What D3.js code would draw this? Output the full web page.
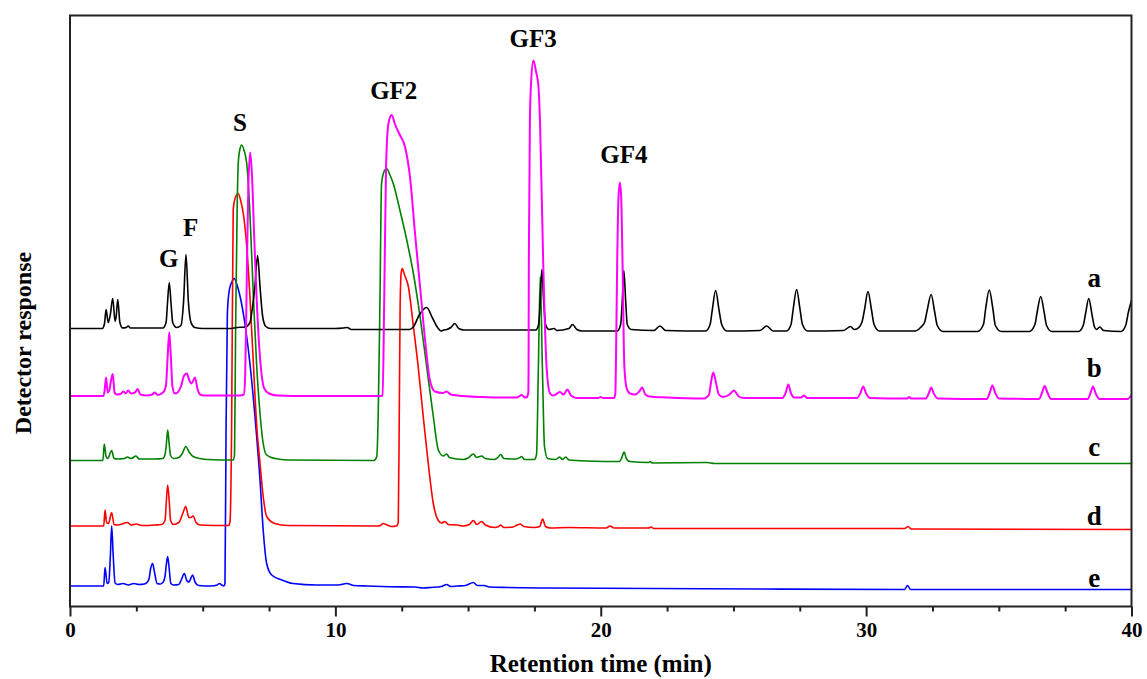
<!DOCTYPE html>
<html><head><meta charset="utf-8">
<script src="https://cdn.jsdelivr.net/npm/d3@7"></script>
<style>body{margin:0;background:#fff;} svg{display:block;}</style>
</head><body><svg id="chart" width="1147" height="679"></svg>
<script>
// Retention time (min), detector response (arbitrary units, traces stacked)
const traceA = [[0,278],[1.22,278],[1.30,283],[1.36,297],[1.44,284],[1.52,292],[1.61,308],[1.70,285],[1.74,290],[1.80,307],[1.88,284],[1.98,278.5],[2.12,279],[2.19,280.5],[2.28,278.5],
[3.50,278.5],[3.62,284],[3.67,302],[3.74,324],[3.81,302],[3.87,284],[4.02,279],
[4.18,281],[4.28,305],[4.37,352],[4.46,305],[4.56,284],[4.70,279],[5.0,278],
[6.0,278],[6.3,279],[6.6,279.5],[6.78,284],[6.88,300],[6.96,318],[7.07,351],[7.16,320],[7.26,290],[7.38,280],[7.55,278],
[10.0,278],[10.3,278.5],[10.45,279],[10.6,277],[12.8,277],[12.95,280],[13.15,291],[13.44,299],[13.65,289],[13.85,279],[13.98,275.5],[14.08,276.5],[14.2,277],[14.35,279],[14.5,283],[14.65,278],[14.85,276.5],
[17.55,276.5],[17.66,282],[17.72,305],[17.78,337],[17.85,305],[17.92,282],[18.05,277],[18.24,278],[18.35,276],[18.8,278],[18.94,282],[19.1,277],[19.3,275.5],
[20.62,275.5],[20.75,282],[20.81,305],[20.87,336],[20.94,305],[21.0,282],[21.15,277],[22.0,276],[22.23,280.5],[22.45,276],
[23.95,275.5],[24.12,282],[24.2,296],[24.33,316],[24.46,296],[24.56,282],[24.75,275.5],
[26.0,276],[26.25,280.5],[26.5,275.5],[27.0,275.5],[27.17,282],[27.25,297],[27.38,317],[27.51,297],[27.6,282],[27.8,275.5],
[29.15,276],[29.41,280],[29.55,277],[29.68,278],[29.85,285],[29.94,297],[30.07,315],[30.2,297],[30.3,282],[30.5,275.5],
[31.85,275.5],[32.05,279],[32.2,284],[32.3,296],[32.45,312],[32.58,295],[32.68,281],[32.9,275],
[34.2,275],[34.42,282],[34.5,297],[34.64,316.5],[34.78,297],[34.87,281],[35.1,275],
[36.15,275],[36.36,282],[36.45,295],[36.58,310],[36.71,294],[36.8,281],[37.0,275],
[38.0,275],[38.18,281],[38.27,293],[38.39,308],[38.51,292],[38.6,280],[38.68,277],[38.8,279.5],[38.95,276],
[39.6,275],[39.78,281],[39.88,294],[40.0,306]];

const traceB = [[0,210.5],[1.26,210.5],[1.30,215],[1.36,229],[1.42,214],[1.48,216],[1.54,225],[1.61,232.5],[1.68,214],[1.76,212],[1.9,212.5],[2.01,215],[2.1,213],[2.19,216],[2.3,213],[2.45,214],[2.55,217.5],[2.65,212],[2.9,211],[3.1,212],[3.2,214],[3.3,211.5],[3.45,213],[3.55,215.5],[3.62,222],[3.68,250],[3.74,274],[3.80,250],[3.86,220],[3.95,213],[4.05,214],[4.18,220],[4.30,231],[4.40,233],[4.5,226],[4.58,223],[4.71,229],[4.8,218],[4.9,212],[5.05,211],[6.4,211],
[6.55,212],[6.60,230],[6.64,290],[6.68,360],[6.72,420],[6.79,454],[6.86,430],[6.94,370],[7.03,310],[7.13,260],[7.22,232],[7.32,218],[7.5,213],[7.8,211],[9,210.5],[11.7,210.5],
[11.78,211],[11.84,306],[11.91,440],[12.0,483],[12.12,491.5],[12.25,482],[12.43,471.5],[12.62,460],[12.72,447],[12.81,430],[13.0,373.5],[13.19,320],[13.38,266.5],[13.56,226.5],[13.75,215],[14.05,213.5],[14.19,215],[14.35,212],[14.6,211],
[15.5,209.5],[16.5,209],[16.85,209],[17.02,211.5],[17.15,209],
[17.22,209.5],[17.27,214],[17.28,239],[17.29,345],[17.33,486],[17.37,521],[17.46,546],[17.56,535],[17.65,521],[17.71,486],[17.83,345],[17.96,239],[18.09,213],[18.2,211],[18.3,212],[18.46,214.5],[18.6,212],[18.74,217],[18.88,211],[19.1,208.5],[19.9,208.5],[20.0,209.5],[20.1,208.5],
[20.5,208.5],[20.55,213],[20.57,239.5],[20.62,345],[20.67,410],[20.72,424],[20.77,410],[20.82,345],[20.89,239.5],[20.98,218],[21.1,213],[21.3,212],[21.45,215],[21.56,219],[21.68,212],[21.85,210],[22.5,209],[23.9,208],
[23.95,208.5],[24.08,212],[24.16,225],[24.24,234],[24.34,224],[24.45,212],[24.6,209.5],[24.85,212],[25.02,216],[25.2,210],[25.4,208.5],[26.85,208.5],[26.97,214],[27.07,222],[27.17,213],[27.3,209],[27.55,209],[27.66,211],[27.78,208.5],[29.65,208.5],[29.78,213],[29.89,220],[30.0,213],[30.15,208.5],[31.55,208],[31.62,209.5],[31.7,208],
[32.25,208],[32.36,213],[32.45,219],[32.55,213],[32.7,208],[34.55,207.5],[34.66,214],[34.76,221],[34.86,214],[35.0,208],[36.52,207.5],[36.63,214],[36.73,220.5],[36.83,214],[36.97,207.5],[38.35,207.5],[38.45,213],[38.55,220],[38.65,213],[38.8,207.5],[39.85,207.5],[40,211.5]];

const traceC = [[0,146],[1.24,146],[1.29,162.5],[1.36,150],[1.42,148],[1.57,156],[1.66,148],[1.8,147.5],[2.05,148],[2.16,149.5],[2.3,148],[2.49,150.5],[2.6,147.5],[3.2,147.5],[3.5,148],[3.58,152],[3.63,162],[3.68,176.5],[3.74,162],[3.79,151],[3.9,148],[4.1,149],[4.25,154],[4.36,160],[4.5,154],[4.64,150],[4.9,148],[5.2,147],[6.1,146.5],
[6.15,146.5],[6.2,152],[6.24,276.5],[6.3,400],[6.34,443],[6.4,457],[6.47,461.5],[6.56,456],[6.66,443],[6.78,393],[6.91,310],[7.03,243],[7.16,193],[7.28,163],[7.41,151.5],[7.72,148],[8.2,146.5],[11.4,146],
[11.45,146],[11.56,150],[11.62,200],[11.68,306.5],[11.74,423],[11.82,434],[11.93,438],[12.05,432],[12.18,423],[12.43,396.5],[12.69,366.5],[12.94,333],[13.19,290],[13.44,240],[13.69,190],[13.88,156.5],[14.07,150.5],[14.19,152.5],[14.3,149],[14.81,147],[15.0,148.5],[15.2,152.5],[15.32,149],[15.51,150.5],[15.65,148],
[16.0,147],[16.12,149],[16.23,152],[16.35,148],[16.8,147.5],[16.95,149],[17.02,150],[17.12,147],[17.5,147],[17.58,152],[17.65,240],[17.72,330],[17.8,240],[17.88,160],[18.0,148],[18.3,147],[18.46,149.5],[18.55,147],[18.68,149.5],[18.8,146.5],[19.5,145.5],[20.7,145],[20.78,148],[20.88,154.5],[20.97,147.5],[21.1,145],[21.8,144],[21.86,145],[21.93,143.5],[24.0,144],[24.3,143],[40,143]];

const traceD = [[0,80.5],[1.27,80.5],[1.32,96.5],[1.38,84],[1.45,83],[1.57,94],[1.66,82],[1.8,81.5],[2.16,84],[2.3,81.5],[2.5,82.5],[2.7,81],[3.2,81.5],[3.45,82],[3.58,86],[3.63,105],[3.68,121.5],[3.74,105],[3.79,86],[3.9,82],[4.1,84],[4.25,93],[4.36,100],[4.48,89],[4.55,89],[4.64,90.5],[4.75,84],[4.9,81.5],[5.9,81],
[5.98,81],[6.03,85],[6.09,176.5],[6.15,396.5],[6.22,408],[6.34,413],[6.44,405],[6.53,393],[6.66,360],[6.78,310],[6.91,243],[7.03,183],[7.16,143],[7.28,110],[7.41,90],[7.72,83],[8.2,81],[11.6,80.5],
[11.7,81],[11.8,83],[11.95,81.5],[12.12,80],[12.3,80.5],[12.37,84],[12.41,200],[12.44,300],[12.48,334],[12.52,338],[12.6,332],[12.75,320],[12.94,280],[13.12,240],[13.31,190],[13.5,143],[13.69,103],[13.88,86],[14.0,83.5],[14.13,85],[14.25,82],[14.6,81.5],[14.8,80.5],[15.05,82],[15.2,86],[15.33,82],[15.51,85],[15.65,81.5],
[16.0,79],[16.15,80],[16.23,81.5],[16.35,79],[16.7,79.5],[16.85,81.5],[16.96,82.5],[17.1,80],[17.5,79],[17.7,80],[17.81,87.5],[17.92,80],[18.1,78.5],[18.8,79],[20.2,78.5],[20.35,80.5],[20.5,78.5],[21.8,78.5],[21.9,79.5],[22.0,78],[31.45,78],[31.58,80],[31.7,77.5],[40,77]];

const traceE = [[0,20.5],[1.27,20.5],[1.32,39],[1.40,23],[1.46,24],[1.52,50],[1.57,80.5],[1.63,50],[1.7,23.5],[1.8,22],[2.0,23],[2.2,21.5],[2.4,23],[2.6,22],[2.8,22.5],[2.9,24],[2.98,28],[3.04,38],[3.11,43],[3.18,35],[3.28,23],[3.4,22.5],[3.5,24],[3.58,30],[3.63,42],[3.68,50],[3.73,40],[3.8,23],[3.9,21.5],[4.1,22],[4.2,27],[4.31,33],[4.4,26],[4.48,24.5],[4.55,28],[4.62,31.5],[4.72,24],[4.85,21],[5.3,20.5],[5.55,21.5],[5.63,23],[5.72,21.5],[5.79,20.5],
[5.8,20.5],[5.84,23],[5.88,176.5],[5.93,293],[6.0,316],[6.09,324],[6.19,328],[6.3,321],[6.41,310],[6.59,283],[6.78,243],[6.97,190],[7.16,126.5],[7.28,76.5],[7.41,43],[7.6,31.5],[7.98,26.5],[8.41,23],[9.3,21.5],[10.1,21.5],[10.43,23],[10.7,21],[11.18,20.5],[12.06,19.8],[13.0,19.5],[13.31,18.5],[13.6,19],[14.0,20],[14.19,22],[14.35,20],[14.6,20.5],[14.9,21],[15.2,24],[15.35,21],[15.6,21],[15.8,19.5],[16.5,19],[18,18.5],[22,18],[26,17.5],[31.45,17],[31.56,21],[31.67,17],[40,17]];

const traceNames = ["a","b","c","d","e"];
const traceLabelTime = 38.6;
const traceLabelResp = [319.5, 229.5, 150.5, 81.5, 19.5];

const peakNames = ["G","F","S","GF2","GF3","GF4"];
const peakTimes = [3.72, 4.55, 6.4, 12.2, 17.45, 20.87];
const peakResp  = [339.5, 370.5, 475.5, 507.5, 559.5, 443.5];

const xTicksMajor = [0,10,20,30,40];
const xTicksMinor = [2.5,5,7.5,12.5,15,17.5,22.5,25,27.5,32.5,35,37.5];
const xLabel = "Retention time (min)";
const yLabel = "Detector response";

// ---- styles / layout ----
const colors = ["#000000","#ff00ff","#008000","#ff0000","#0000ff"];
const widths = [1.6, 2.0, 1.6, 1.6, 1.6];
const serif = "'Liberation Serif','Times New Roman',serif";
const W = 1147, H = 679;
const L = 70, R = 1131.5, T = 15.5, B = 606.5;

const svg = d3.select("#chart");
svg.append("rect").attr("width",W).attr("height",H).attr("fill","#fff");

const x = d3.scaleLinear().domain([0,40]).range([L,R]);
const y = d3.scaleLinear().domain([0,591]).range([B,T]);

const traces = [traceA, traceB, traceC, traceD, traceE];
const line = d3.line().x(d=>x(d[0])).y(d=>y(d[1])).curve(d3.curveMonotoneX);

const g = svg.append("g");
// draw order: e, d, c, a, b (magenta on top)
const order = [4,3,2,0,1];
order.forEach(i=>{
  g.append("path").datum(traces[i]).attr("d",line)
   .attr("fill","none").attr("stroke",colors[i]).attr("stroke-width",widths[i])
   .attr("stroke-linejoin","round");
});

// frame
svg.append("rect").attr("x",L).attr("y",T).attr("width",R-L).attr("height",B-T)
  .attr("fill","none").attr("stroke","#222").attr("stroke-width",2);

// x axis major
const ax = svg.append("g").attr("transform",`translate(0,${B})`)
  .call(d3.axisBottom(x).tickValues(xTicksMajor).tickSize(10).tickSizeOuter(0).tickPadding(6).tickFormat(d3.format("d")));
ax.select(".domain").remove();
ax.selectAll("line").attr("stroke","#222").attr("stroke-width",2);
ax.selectAll("text").attr("font-family",serif).attr("font-weight","bold").attr("font-size",21).attr("fill","#000");
const axm = svg.append("g").attr("transform",`translate(0,${B})`)
  .call(d3.axisBottom(x).tickValues(xTicksMinor).tickSize(5).tickSizeOuter(0).tickFormat(""));
axm.select(".domain").remove();
axm.selectAll("line").attr("stroke","#222").attr("stroke-width",2);

// axis titles
svg.append("text").attr("x",(L+R)/2).attr("y",672).attr("text-anchor","middle")
  .attr("font-family",serif).attr("font-weight","bold").attr("font-size",25).text(xLabel);
svg.append("text").attr("transform",`translate(31,${343}) rotate(-90)`).attr("text-anchor","middle")
  .attr("font-family",serif).attr("font-weight","bold").attr("font-size",24).text(yLabel);

// peak labels
peakNames.forEach((n,i)=>{
  svg.append("text").attr("x",x(peakTimes[i])).attr("y",y(peakResp[i])).attr("text-anchor","middle")
    .attr("font-family",serif).attr("font-weight","bold").attr("font-size",25).text(n);
});
// trace labels
traceNames.forEach((n,i)=>{
  svg.append("text").attr("x",x(traceLabelTime)).attr("y",y(traceLabelResp[i])).attr("text-anchor","middle")
    .attr("font-family",serif).attr("font-weight","bold").attr("font-size",27).text(n);
});
</script></body></html>
